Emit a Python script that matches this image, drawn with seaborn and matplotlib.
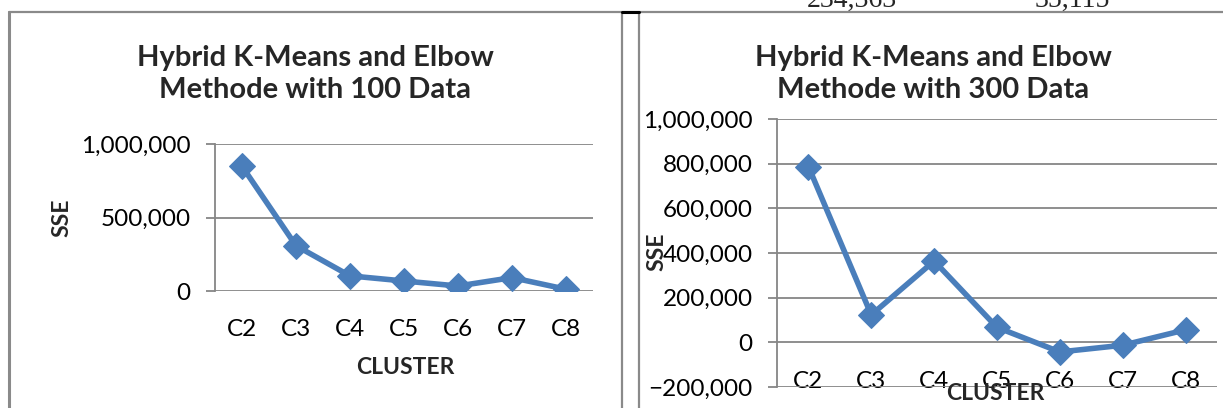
import matplotlib
matplotlib.use("Agg")
import matplotlib.pyplot as plt
import matplotlib.ticker as mticker
from matplotlib.lines import Line2D
import pandas as pd
import seaborn as sns

# data
clusters = ["C2", "C3", "C4", "C5", "C6", "C7", "C8"]
sse_100 = [849000, 308000, 103000, 68000, 34000, 91000, 12000]
sse_300 = [787000, 123000, 364000, 67000, -43000, -13000, 56000]

titles = ["Hybrid K-Means and Elbow\nMethode with 100 Data",
          "Hybrid K-Means and Elbow\nMethode with 300 Data"]
yticks_100 = [0, 500000, 1000000]
yticks_300 = [-200000, 0, 200000, 400000, 600000, 800000, 1000000]

sns.set_theme(style="white")
plt.rcParams["font.family"] = ["Lato", "DejaVu Sans"]

W, H = 1223, 408
fig = plt.figure(figsize=(W / 100, H / 100), dpi=100)

def fx(px):
    return px / W

def fy(py):
    return 1 - py / H

line_color = "#4a7ebb"
grid_color = "#868686"

# axes boxes in pixels: left, top, right, bottom
ax1 = fig.add_axes([fx(215), fy(291), fx(593) - fx(215), fy(144) - fy(291)])
ax2 = fig.add_axes([fx(777), fy(387), fx(1217) - fx(777), fy(119) - fy(387)])

panels = [
    (ax1, sse_100, yticks_100, (0, 1000000)),
    (ax2, sse_300, yticks_300, (-200000, 1000000)),
]

for ax, vals, yt, ylim in panels:
    df = pd.DataFrame({"cluster": clusters, "sse": vals})
    sns.lineplot(data=df, x="cluster", y="sse", ax=ax, color=line_color,
                 linewidth=4, marker="D", markersize=13,
                 markeredgecolor=line_color, zorder=3)
    ax.set_xlim(-0.5, len(clusters) - 0.5)
    ax.set_ylim(*ylim)
    ax.set_yticks(yt)
    ax.yaxis.set_major_formatter(mticker.StrMethodFormatter("{x:,.0f}"))
    ax.grid(axis="y", color=grid_color, linewidth=1.3)
    ax.grid(axis="x", visible=False)
    ax.set_xlabel("")
    ax.set_ylabel("")
    for s in ["top", "right", "bottom"]:
        ax.spines[s].set_visible(False)
    ax.spines["left"].set_color(grid_color)
    ax.spines["left"].set_linewidth(1.3)
    ax.spines["bottom"].set_position(("data", 0))
    ax.tick_params(axis="y", which="major", left=True, length=6.5, width=1.3,
                   color=grid_color, labelsize=17.5, pad=11, labelcolor="black")
    ax.tick_params(axis="x", bottom=False, labelsize=17.5, pad=14,
                   labelcolor="black")
    ax.patch.set_alpha(0)

ax2.tick_params(axis="x", pad=15)

# titles and axis labels
fig.text(fx(315), fy(74), titles[0], ha="center", va="center",
         fontsize=21, fontweight="bold", linespacing=1.33)
fig.text(fx(933), fy(74), titles[1], ha="center", va="center",
         fontsize=21, fontweight="bold", linespacing=1.33)
fig.text(fx(405), fy(367), "CLUSTER", ha="center", va="center",
         fontsize=16.5, fontweight="bold")
fig.text(fx(995), fy(393), "CLUSTER", ha="center", va="center",
         fontsize=16.5, fontweight="bold")
fig.text(fx(62), fy(218), "SSE", ha="center", va="center", rotation=90,
         fontsize=16.5, fontweight="bold")
fig.text(fx(657), fy(252), "SSE", ha="center", va="center", rotation=90,
         fontsize=16.5, fontweight="bold")

# chart frames from the document page
border = "#8a8a8a"
frame_lines = [
    ([9, 1223], [12, 12], border, 1.6),
    ([9, 9], [12, 408], border, 2.2),
    ([621.5, 621.5], [12, 408], border, 1.6),
    ([639, 639], [12, 408], border, 1.6),
    ([621.5, 639], [12, 12], "black", 2.2),
]
for xs, ys, c, lw in frame_lines:
    fig.add_artist(Line2D([fx(x) for x in xs], [fy(y) for y in ys],
                          color=c, linewidth=lw))

# cut-off row of the table above the charts
fig.text(fx(852), fy(7), "234,363", ha="center", va="baseline",
         fontsize=20, family="Liberation Serif")
fig.text(fx(1072), fy(7), "35,115", ha="center", va="baseline",
         fontsize=20, family="Liberation Serif")

fig.savefig("out.png", dpi=100)
